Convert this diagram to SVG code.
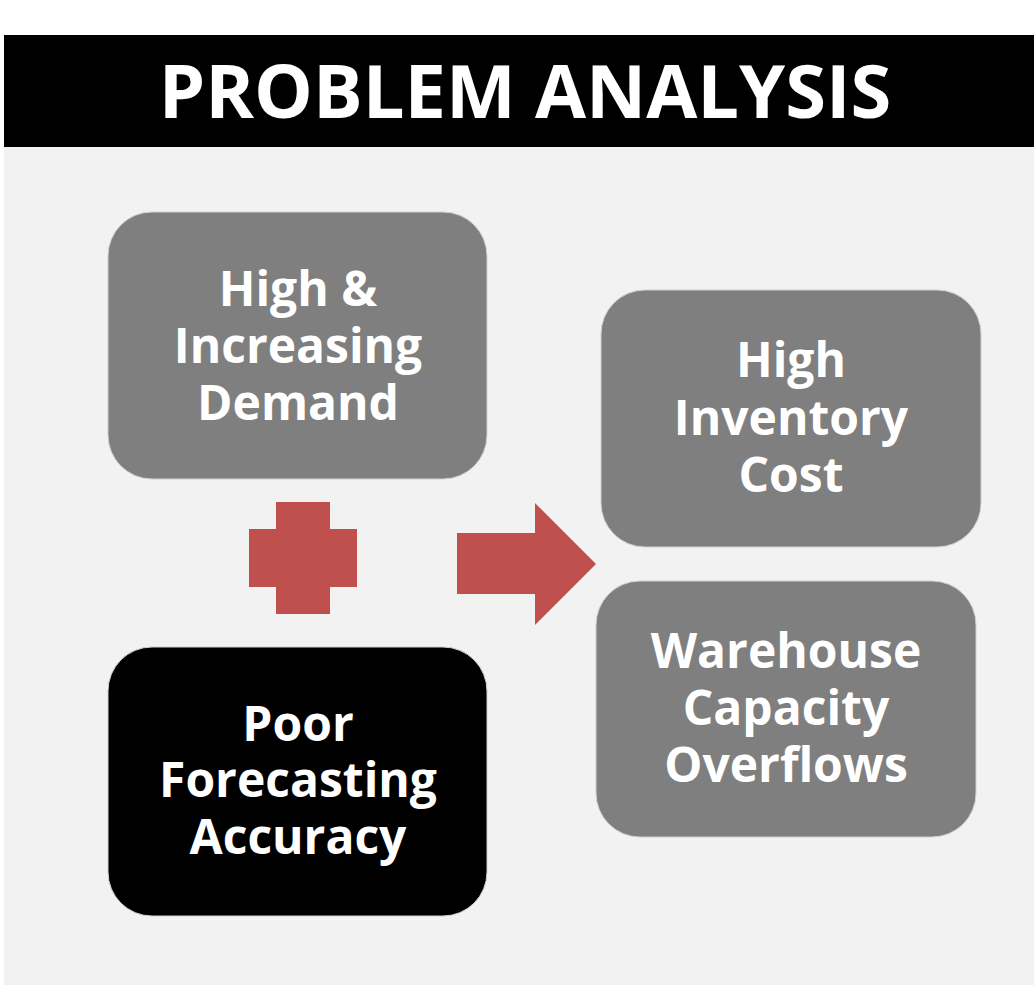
<svg xmlns="http://www.w3.org/2000/svg" width="1034" height="986" viewBox="0 0 1034 986">
<style>
.bg{fill:#f2f2f2}
.box{stroke:#d0d0d0;stroke-width:1}
.gray{fill:#7f7f7f}
.black{fill:#000000}
.lbl{font-family:"Open Sans","Liberation Sans",sans-serif;font-weight:bold;font-size:48px;fill:#ffffff;text-anchor:middle}
.title{font-family:"Open Sans","Liberation Sans",sans-serif;font-weight:bold;font-size:74px;fill:#ffffff;text-anchor:middle}
.red{fill:#c0504d}
</style>
<rect x="0" y="0" width="1034" height="986" fill="#ffffff"/>
<rect class="bg" x="4" y="147" width="1030" height="838"/>
<g id="title">
<rect x="4" y="35" width="1030" height="112" fill="#000000"/>
<text class="title" x="525" y="118">PROBLEM ANALYSIS</text>
</g>
<g id="node-demand">
<rect class="box gray" x="108" y="212" width="379" height="267" rx="44"/>
<text class="lbl"><tspan x="298" y="306">High &amp;</tspan><tspan x="298" y="363">Increasing</tspan><tspan x="298" y="420">Demand</tspan></text>
</g>
<g id="node-forecast">
<rect class="box black" x="108" y="647" width="379" height="269" rx="44"/>
<text class="lbl"><tspan x="298" y="741">Poor</tspan><tspan x="298" y="797">Forecasting</tspan><tspan x="298" y="854">Accuracy</tspan></text>
</g>
<g id="node-inventory">
<rect class="box gray" x="601" y="290" width="380" height="257" rx="44"/>
<text class="lbl"><tspan x="791" y="377">High</tspan><tspan x="791" y="435">Inventory</tspan><tspan x="791" y="492">Cost</tspan></text>
</g>
<g id="node-warehouse">
<rect class="box gray" x="596" y="581" width="380" height="256" rx="44"/>
<text class="lbl"><tspan x="786" y="668">Warehouse</tspan><tspan x="786" y="725">Capacity</tspan><tspan x="786" y="782">Overflows</tspan></text>
</g>
<g id="connectors">
<path class="red" d="M276,502 H330 V529 H357 V587 H330 V614 H276 V587 H249 V529 H276 Z"/>
<path class="red" d="M457,533 H535 V503 L596,564 L535,625 V594 H457 Z"/>
</g>
</svg>
